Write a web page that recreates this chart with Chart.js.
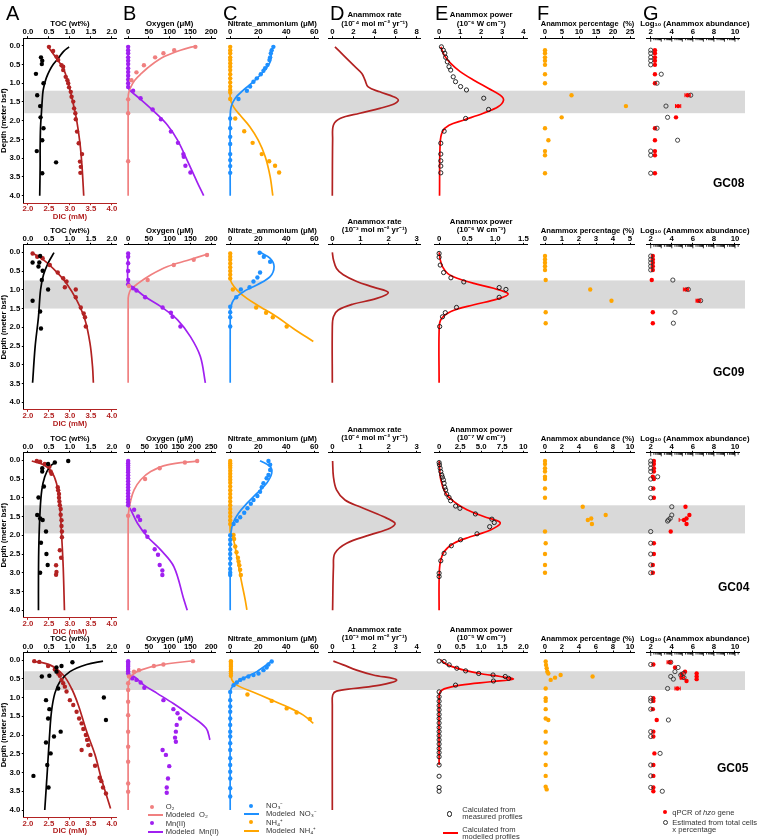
<!DOCTYPE html>
<html>
<head>
<meta charset="utf-8">
<script src="https://cdn.jsdelivr.net/npm/chart.js@4.4.1/dist/chart.umd.min.js"></script>
<style>
  body { margin: 0; background: #fff; width: 757px; height: 840px; overflow: hidden; position: relative;
         font-family: "Liberation Sans", Arial, sans-serif; }
  canvas { position: absolute; }
  .letter { position: absolute; font-size: 20px; line-height: 20px; color: #000; }
  .gc { position: absolute; font-size: 12px; line-height: 12px; font-weight: bold; color: #000; }
  .leg { position: absolute; font-size: 7.6px; line-height: 7px; color: #333; white-space: nowrap; }
  .mk { position: absolute; }
</style>
</head>
<body>
<script>
// ---- data: [value, depth (m)] ----
const zone08 = [1.2, 1.8];
const zone09 = [0.75, 1.5];
const zone04 = [1.2, 1.95];
const zone05 = [0.3, 0.8];

// tick labels
const depthTicks = [0, 0.5, 1, 1.5, 2, 2.5, 3, 3.5, 4];
const tocTicks = [0, 0.5, 1, 1.5, 2];
const dicTicks = [2, 2.5, 3, 3.5, 4];
const oxyTicks = [0, 50, 100, 150, 200];
const oxyTicks04 = [0, 50, 100, 150, 200, 250];
const nitTicks = [0, 20, 40, 60];
const rateTicks08 = [0, 2, 4, 6, 8];
const rateTicks3 = [0, 1, 2, 3];
const rateTicks4 = [0, 1, 2, 3, 4];
const powTicks08 = [0, 1, 2, 3, 4];
const powTicks09 = [0, 0.5, 1, 1.5];
const powTicks04 = [0, 2.5, 5, 7.5, 10];
const powTicks05 = [0, 0.5, 1, 1.5, 2];
const pctTicks08 = [0, 5, 10, 15, 20, 25];
const pctTicks09 = [0, 1, 2, 3, 4, 5];
const pctTicks10 = [0, 2, 4, 6, 8, 10];
const logTicks = [2, 4, 6, 8, 10];

// GC08
const gc08_toc = [[0.31,0.31],[0.34,0.40],[0.33,0.49],[0.19,0.75],[0.37,1.0],[0.22,1.32],[0.29,1.61],[0.30,1.91],[0.37,2.2],[0.34,2.52],[0.21,2.81],[0.67,3.11],[0.34,3.4]];
const gc08_tocModel = [[0.98,0.03],[0.85,0.15],[0.72,0.34],[0.6,0.5],[0.52,0.65],[0.44,0.85],[0.40,1.0],[0.36,1.2],[0.34,1.45],[0.32,1.8],[0.30,2.16],[0.29,2.7],[0.29,3.2],[0.28,4.0]];
const gc08_dic = [[2.50,0.03],[2.60,0.14],[2.68,0.29],[2.72,0.38],[2.80,0.52],[2.84,0.56],[2.84,0.65],[2.90,0.83],[2.94,0.92],[2.96,1.0],[2.98,1.11],[3.02,1.23],[3.04,1.36],[3.08,1.49],[3.10,1.67],[3.13,1.80],[3.14,1.96],[3.17,2.29],[3.21,2.6],[3.29,2.89],[3.24,3.09],[3.26,3.23],[3.25,3.39]];
const gc08_dicModel = [[2.48,0.03],[2.68,0.34],[2.84,0.6],[2.96,1.0],[3.06,1.45],[3.16,1.98],[3.24,2.6],[3.29,3.23],[3.33,4.0]];
const gc08_o2 = [[162,0.03],[111,0.12],[85,0.2],[65,0.31],[38,0.52],[20,0.71],[8,0.92],[0,1.43],[0,1.8],[0,3.08]];
const gc08_o2Model = [[165,0.0],[126,0.12],[87,0.29],[55,0.52],[32,0.74],[16,0.92],[6,1.11],[1,1.27],[0,1.4],[0,4.0]];
const gc08_mn = [[0,0.03],[0,0.12],[0,0.2],[0,0.31],[0,0.4],[0,0.49],[0,0.6],[0,0.7],[0,0.8],[0,0.9],[0,1.0],[0,1.1],[12,1.2],[30,1.4],[59,1.7],[79,1.96],[103,2.29],[120,2.59],[133,2.89],[134,2.96],[138,3.2],[150,3.38]];
const gc08_mnModel = [[0,0],[0,1.1],[3,1.18],[8,1.23],[32,1.45],[63,1.76],[95,2.12],[119,2.52],[142,3.05],[166,3.63],[182,4.0]];
const gc08_no3 = [[30.8,0.03],[29.6,0.12],[29,0.2],[28.5,0.31],[28,0.38],[26.6,0.51],[24.9,0.6],[23.7,0.67],[21.8,0.76],[19,0.87],[16.6,0.96],[14.2,1.09],[11.9,1.2],[5.9,1.42],[0,1.94],[0,2.2],[0,2.43],[0,2.62],[0,2.89],[0,3.05],[0,3.21],[0,3.39]];
const gc08_no3Model = [[31,0.03],[29.6,0.12],[28.5,0.43],[23.7,0.69],[16.6,0.96],[9.5,1.18],[3.6,1.4],[0.7,1.63],[0,1.9],[0,4.0]];
const gc08_nh4 = [[0,0.03],[0,0.12],[0,0.2],[0,0.31],[0,0.38],[0,0.47],[0,0.56],[0,0.65],[0,0.76],[0,0.87],[0,0.98],[0,1.09],[0,1.18],[0,1.25],[0,1.42],[3.6,1.94],[10,2.28],[16,2.59],[22.5,2.89],[27.8,3.08],[32,3.2],[34.9,3.38]];
const gc08_nh4Model = [[0,0],[0,1.4],[2.4,1.63],[7,1.85],[14,2.16],[20,2.52],[25,2.96],[28.5,3.49],[30.4,4.0]];
const gc08_rate = [[0.25,0.03],[1.04,0.25],[2.0,0.52],[2.8,0.74],[3.1,0.92],[3.4,1.1],[4.5,1.23],[5.8,1.36],[6.26,1.45],[5.8,1.56],[4.5,1.67],[2.6,1.8],[0.73,1.94],[0.1,2.12],[0.03,2.5],[0,4.0]];
const gc08_power = [[0.11,0.03],[0.2,0.12],[0.27,0.2],[0.31,0.31],[0.39,0.43],[0.47,0.56],[0.55,0.65],[0.67,0.83],[0.78,0.96],[1.02,1.09],[1.3,1.18],[2.12,1.4],[2.35,1.7],[1.26,1.94],[0.24,2.28],[0.08,2.6],[0.08,2.89],[0.08,3.07],[0.08,3.21],[0.08,3.39]];
const gc08_powerModel = [[0.08,0.03],[0.24,0.25],[0.55,0.47],[1.0,0.69],[1.65,0.92],[2.35,1.14],[2.9,1.32],[3.06,1.45],[2.8,1.63],[2.1,1.8],[1.18,1.98],[0.47,2.12],[0.16,2.29],[0.05,2.6],[0.02,4.0]];
const gc08_pct = [[0,0.12],[0,0.2],[0,0.31],[0,0.4],[0,0.51],[0,0.76],[0,1.0],[7.8,1.32],[23.8,1.61],[4.9,1.91],[0,2.2],[1.0,2.52],[0,2.81],[0,2.92],[0,3.4]];
const gc08_qpcr = [[2.4,0.12],[2.4,0.2],[2.4,0.31],[2.4,0.4],[2.4,0.51],[2.4,0.76],[2.4,1.0],[5.5,1.32],[4.6,1.61],[4.4,1.91],[2.4,2.2],[2.4,2.52],[2.4,2.81],[2.4,2.92],[2.4,3.4]];
const gc08_est = [[2.0,0.12],[2.0,0.2],[2.0,0.31],[2.0,0.4],[2.0,0.51],[3.0,0.76],[2.6,1.0],[5.8,1.32],[3.45,1.61],[3.6,1.91],[2.6,2.2],[4.55,2.52],[2.0,2.81],[2.0,2.92],[2.0,3.4]];
const gc08_err = [[5.25,5.75,1.32],[4.35,4.85,1.61]];

// GC09
const gc09_toc = [[0.29,0.1],[0.11,0.27],[0.27,0.27],[0.25,0.38],[0.35,0.49],[0.33,0.74],[0.48,0.99],[0.11,1.29],[0.29,1.58],[0.31,2.03]];
const gc09_tocModel = [[0.62,0.01],[0.48,0.29],[0.37,0.6],[0.30,1.0],[0.25,1.72],[0.17,2.52],[0.11,3.48]];
const gc09_dic = [[2.11,0.03],[2.22,0.12],[2.35,0.16],[2.52,0.34],[2.71,0.54],[2.84,0.69],[2.92,0.78],[2.88,0.93],[3.14,0.99],[3.14,1.2],[3.26,1.47],[3.33,1.63],[3.36,1.73],[3.38,1.98]];
const gc09_dicModel = [[2.09,0.01],[2.37,0.2],[2.68,0.52],[2.92,0.83],[3.16,1.27],[3.36,1.8],[3.48,2.43],[3.54,3.05],[3.56,3.48]];
const gc09_o2 = [[190,0.07],[158,0.2],[110,0.34],[47,0.74],[2,0.9]];
const gc09_o2Model = [[194,0.04],[142,0.22],[95,0.38],[55,0.6],[24,0.83],[6,1.0],[1,1.15],[0,1.3],[0,3.48]];
const gc09_mn = [[0,0.03],[0,0.12],[0,0.29],[0,0.5],[0,0.74],[0,0.85],[12,0.96],[20,1.02],[41,1.2],[83,1.47],[103,1.61],[107,1.72],[126,1.98]];
const gc09_mnModel = [[0,0],[0,0.85],[12,0.93],[40,1.18],[79,1.45],[119,1.8],[150,2.25],[174,2.78],[186,3.48]];
const gc09_no3 = [[21,0.01],[24,0.12],[28.5,0.25],[21.3,0.54],[19.4,0.67],[16.6,0.78],[13.8,0.93],[7.6,0.99],[4.3,1.2],[0,1.45],[0,1.6],[0,1.73],[0,1.98]];
const gc09_no3Model = [[21.3,0],[28.5,0.16],[31.3,0.38],[28.5,0.65],[19,0.87],[9.5,1.05],[2.4,1.27],[0.2,1.5],[0,1.7],[0,3.48]];
const gc09_nh4 = [[0,0.03],[0,0.12],[0,0.2],[0,0.3],[0,0.4],[0,0.5],[0,0.6],[0,0.7],[1.9,0.99],[18.5,1.47],[25.6,1.61],[30.4,1.73],[40.3,1.98]];
const gc09_nh4Model = [[0,0],[0,0.7],[1.2,0.83],[4.7,1.0],[11.9,1.23],[21.3,1.45],[33.2,1.72],[45,2.03],[59.3,2.38]];
const gc09_rate = [[0,0],[0.04,0.2],[0.15,0.43],[0.39,0.6],[0.87,0.78],[1.46,0.93],[1.99,1.07],[1.58,1.23],[0.75,1.38],[0.21,1.54],[0.04,1.72],[0,2.0],[0,3.48]];
const gc09_power = [[0,0.03],[0,0.13],[0.02,0.34],[0.08,0.54],[0.21,0.68],[0.44,0.79],[1.07,0.94],[1.19,0.99],[1.07,1.2],[0.31,1.47],[0.11,1.61],[0.06,1.72],[0.01,1.98]];
const gc09_powerModel = [[0,0],[0.02,0.2],[0.06,0.38],[0.15,0.56],[0.32,0.69],[0.62,0.83],[0.97,0.96],[1.23,1.11],[1.03,1.25],[0.62,1.4],[0.21,1.58],[0.03,1.8],[0,2.1],[0,3.48]];
const gc09_pct = [[0,0.1],[0,0.19],[0,0.28],[0,0.37],[0,0.47],[0.04,0.74],[2.66,0.99],[3.91,1.29],[0.04,1.6],[0.04,1.89]];
const gc09_qpcr = [[2.2,0.1],[2.2,0.19],[2.2,0.28],[2.2,0.37],[2.2,0.47],[2.1,0.74],[5.35,0.99],[6.5,1.29],[2.2,1.6],[2.2,1.89]];
const gc09_est = [[2.0,0.1],[2.0,0.19],[2.0,0.28],[2.0,0.37],[2.0,0.47],[4.1,0.74],[5.57,0.99],[6.74,1.29],[4.3,1.6],[4.15,1.89]];
const gc09_err = [[5.1,5.6,0.99],[6.3,6.75,1.29]];

// GC04
const gc04_toc = [[0.96,0.02],[0.64,0.06],[0.48,0.1],[0.34,0.21],[0.34,0.3],[0.38,0.7],[0.25,0.99],[0.22,1.46],[0.29,1.55],[0.35,1.59],[0.43,1.9],[0.31,2.2],[0.44,2.5],[0.47,2.79],[0.29,3.0]];
const gc04_tocModel = [[0.67,0.04],[0.52,0.17],[0.40,0.44],[0.33,0.79],[0.29,1.32],[0.26,2.21],[0.25,3.1],[0.25,4.0]];
const gc04_dic = [[2.21,0.02],[2.29,0.04],[2.4,0.1],[2.51,0.17],[2.54,0.3],[2.56,0.36],[2.71,0.72],[2.72,0.8],[2.74,0.9],[2.74,1.0],[2.75,1.1],[2.76,1.2],[2.78,1.3],[2.78,1.45],[2.8,1.6],[2.8,1.75],[2.81,1.9],[2.81,2.05],[2.76,2.4],[2.79,2.6],[2.67,2.8],[2.68,2.98],[2.67,3.05]];
const gc04_dicModel = [[2.09,0.02],[2.37,0.12],[2.56,0.3],[2.68,0.61],[2.75,1.06],[2.8,1.95],[2.84,2.84],[2.87,4.0]];
const gc04_o2 = [[208,0.02],[171,0.06],[95,0.21],[51,0.5],[0,1.48]];
const gc04_o2Model = [[208,0.02],[118,0.12],[68,0.3],[38,0.52],[18,0.79],[8,1.06],[1,1.41],[0,1.6],[0,4.0]];
const gc04_mn = [[0,0.02],[0,0.08],[0,0.14],[0,0.2],[0,0.26],[0,0.32],[0,0.4],[0,0.48],[0,0.56],[0,0.64],[0,0.72],[0,0.8],[0,0.88],[0,0.96],[0,1.04],[0,1.12],[0,1.2],[18,1.32],[30,1.5],[36,1.59],[50,1.9],[58,2.04],[80,2.37],[90,2.52],[95,2.79],[103,2.94],[103,3.06]];
const gc04_mnModel = [[0,0],[0,1.2],[8,1.32],[28,1.68],[58,2.04],[98,2.39],[138,2.84],[168,3.72],[178,4.0]];
const gc04_no3 = [[27.3,0.02],[28.5,0.12],[28.5,0.26],[27.3,0.39],[26,0.48],[23.7,0.61],[22.5,0.72],[21.3,0.84],[19.4,0.95],[16.6,1.06],[14.7,1.16],[12.3,1.28],[10,1.4],[7.1,1.52],[4.7,1.61],[2.4,1.7],[0,2.0],[0,2.12],[0,2.24],[0,2.38],[0,2.5],[0,2.62],[0,2.76],[0,2.9],[0,3.0],[0,3.06]];
const gc04_no3Model = [[21.3,0.01],[28.5,0.17],[29.6,0.35],[26,0.61],[19,0.88],[11.9,1.15],[5.9,1.41],[1.9,1.68],[0.5,1.95],[0,2.3],[0,4.0]];
const gc04_nh4 = [[0,0.02],[0,0.08],[0,0.14],[0,0.2],[0,0.28],[0,0.36],[0,0.44],[0,0.52],[0,0.6],[0,0.7],[0,0.8],[0,0.9],[0,1.0],[0,1.1],[0,1.2],[0,1.3],[0,1.4],[0,1.5],[0,1.6],[0,1.7],[2.4,1.99],[2.8,2.1],[3.6,2.3],[4.5,2.45],[5.5,2.6],[6,2.7],[6.5,2.8],[7.1,2.92],[7.6,3.06]];
const gc04_nh4Model = [[0,0],[0,1.9],[2.4,2.12],[5.2,2.66],[7.8,3.19],[10.7,3.72],[11.9,3.99]];
const gc04_rate = [[0.01,0.02],[0.04,0.44],[0.15,0.79],[0.45,1.06],[0.98,1.24],[1.81,1.5],[2.23,1.68],[2.05,1.81],[1.34,1.99],[0.51,2.21],[0.09,2.48],[0.04,2.84],[0.01,4.0]];
const gc04_power = [[0,0.06],[0.04,0.12],[0.12,0.21],[0.2,0.3],[0.31,0.39],[0.39,0.45],[0.51,0.52],[0.59,0.61],[0.67,0.72],[0.78,0.79],[0.9,0.9],[1.18,0.99],[1.37,1.08],[1.96,1.22],[2.47,1.28],[4.31,1.43],[6.27,1.57],[6.55,1.66],[6.0,1.77],[4.5,1.96],[2.55,2.12],[1.45,2.28],[0.59,2.48],[0.2,2.68],[0,3.01],[0,3.1]];
const gc04_powerModel = [[0,0.02],[0.2,0.52],[0.78,0.88],[1.76,1.1],[3.3,1.32],[5.3,1.5],[7.25,1.66],[6.1,1.86],[3.7,2.04],[1.76,2.21],[0.59,2.44],[0.12,2.75],[0,3.2],[0,4.0]];
const gc04_pct = [[0,0.02],[0,0.1],[0,0.21],[0,0.3],[0,0.44],[0,0.5],[0,0.75],[0,1.0],[4.44,1.24],[7.14,1.46],[5.44,1.55],[5.04,1.59],[5.52,1.7],[0,1.9],[0.08,2.21],[0,2.5],[0,2.79],[0,3.0]];
const gc04_qpcr = [[2.3,0.02],[2.3,0.1],[2.3,0.21],[2.3,0.3],[2.2,0.44],[2.3,0.5],[2.25,0.75],[2.3,1.0],[5.3,1.24],[5.67,1.46],[5.4,1.55],[5.16,1.59],[5.4,1.7],[3.9,1.9],[2.3,2.21],[2.3,2.5],[2.2,2.79],[2.2,3.0]];
const gc04_est = [[2.0,0.02],[2.0,0.1],[2.0,0.21],[2.0,0.3],[2.66,0.44],[2.0,0.5],[2.0,0.75],[2.0,1.0],[4.0,1.24],[4.0,1.46],[3.85,1.55],[3.7,1.59],[3.6,1.62],[2.0,1.9],[2.0,2.21],[2.0,2.5],[2.0,2.79],[2.0,3.0]];
const gc04_err = [[4.7,5.3,1.59]];

// GC05
const gc05_toc = [[1.06,0.06],[0.8,0.16],[0.68,0.2],[0.68,0.31],[0.33,0.44],[0.51,0.42],[0.72,0.76],[1.81,1.0],[0.43,1.07],[0.51,1.31],[0.48,1.56],[1.86,1.6],[0.78,1.91],[0.62,2.04],[0.43,2.2],[0.54,2.49],[0.46,2.8],[0.13,3.09],[0.49,3.4]];
const gc05_tocModel = [[1.79,0.03],[1.4,0.12],[1.0,0.31],[0.76,0.58],[0.64,0.89],[0.56,1.38],[0.51,2.09],[0.46,2.98],[0.4,4.0]];
const gc05_dic = [[2.15,0.03],[2.27,0.05],[2.48,0.16],[2.64,0.25],[2.72,0.36],[2.76,0.42],[2.8,0.53],[2.84,0.62],[2.88,0.71],[2.92,0.84],[3.0,1.07],[3.08,1.2],[3.16,1.38],[3.22,1.56],[3.28,1.69],[3.32,1.84],[3.38,2.0],[3.41,2.13],[3.44,2.27],[3.28,2.4],[3.49,2.53],[3.6,2.82],[3.71,3.14],[3.75,3.23],[3.79,3.4],[3.86,3.56]];
const gc05_dicModel = [[2.11,0.03],[2.52,0.13],[2.84,0.4],[3.04,0.76],[3.2,1.2],[3.4,1.91],[3.6,2.53],[3.75,3.16],[3.97,3.96]];
const gc05_o2 = [[156,0.03],[85,0.12],[62,0.16],[26,0.27],[14,0.31],[2,0.44],[0,0.62],[0,0.8],[0,1.11],[0,1.47],[0,1.91],[0,2.31],[0,2.71],[0,3.29],[0,3.51]];
const gc05_o2Model = [[158,0.02],[77,0.13],[30,0.27],[10,0.4],[1.5,0.58],[0,0.8],[0,4.0]];
const gc05_mn = [[0,0.03],[0,0.08],[0,0.13],[0,0.18],[0,0.24],[0,0.3],[0,0.36],[10,0.49],[20,0.53],[30,0.6],[39,0.74],[85,1.07],[109,1.31],[119,1.42],[125,1.56],[117,1.73],[115,1.91],[113,2.07],[115,2.18],[83,2.4],[91,2.53],[99,2.83],[96,3.16],[93,3.4],[93,3.54]];
const gc05_mnModel = [[0,0],[0,0.38],[14,0.44],[38,0.67],[70,0.89],[109,1.16],[149,1.47],[188,1.82],[197,2.13]];
const gc05_no3 = [[29.6,0.04],[27.3,0.12],[26,0.2],[23.7,0.27],[20.2,0.36],[16.6,0.4],[13,0.44],[9.5,0.49],[7.1,0.53],[4.7,0.6],[2.4,0.67],[0,0.85],[0,1.07],[0,1.24],[0,1.38],[0,1.56],[0,1.73],[0,1.91],[0,2.04],[0,2.22],[0,2.4],[0,2.62],[0,2.8],[0,2.98],[0,3.16],[0,3.42],[0,3.64]];
const gc05_no3Model = [[29.6,0.03],[19,0.31],[9.5,0.49],[3.6,0.62],[0.7,0.76],[0,0.9],[0,4.0]];
const gc05_nh4 = [[0.5,0.03],[0.5,0.08],[0.5,0.13],[0.5,0.18],[0.5,0.24],[0.5,0.3],[0.5,0.36],[0.5,0.42],[12.3,0.92],[29.6,1.09],[40.3,1.29],[47.4,1.4],[56.9,1.57]];
const gc05_nh4Model = [[1.5,0.0],[0.6,0.1],[0.7,0.3],[1.2,0.53],[4.7,0.67],[16.6,0.86],[28.5,1.05],[40.3,1.24],[52.2,1.47],[59.3,1.69]];
const gc05_rate = [[0.05,0.03],[0.52,0.13],[1.15,0.27],[1.94,0.4],[3.05,0.53],[2.26,0.67],[1.0,0.76],[0.2,0.83],[0.02,0.93],[0,1.2],[0,4.0]];
const gc05_power = [[0,0.03],[0.12,0.04],[0.24,0.13],[0.42,0.22],[0.63,0.29],[0.94,0.36],[1.28,0.4],[1.57,0.44],[1.65,0.49],[1.29,0.56],[0.39,0.67],[0,0.85],[0,0.98],[0,1.1],[0,1.22],[0,1.33],[0,1.45],[0,1.56],[0,1.68],[0,1.8],[0,1.91],[0,2.02],[0,2.13],[0,2.24],[0,2.36],[0,2.47],[0,2.58],[0,2.8],[0,3.1],[0,3.4],[0,3.5]];
const gc05_powerModel = [[0.04,0.0],[0.2,0.13],[0.59,0.27],[1.06,0.38],[1.45,0.44],[1.76,0.51],[1.22,0.58],[0.51,0.67],[0.12,0.77],[0.02,0.86],[0,1.0],[0,2.8]];
const gc05_pct = [[0.08,0.04],[0.12,0.13],[0.2,0.22],[0.27,0.31],[0.39,0.36],[1.84,0.4],[5.6,0.44],[1.18,0.47],[0.67,0.53],[0.08,0.76],[0.08,1.02],[0.08,1.09],[0.08,1.31],[0.08,1.56],[0.39,1.6],[0.08,1.91],[0.08,2.2],[0.08,2.49],[0.08,2.8],[0.08,3.09],[0.08,3.38],[0.2,3.45]];
const gc05_qpcr = [[2.25,0.12],[3.77,0.06],[4.31,0.2],[5.26,0.31],[4.94,0.38],[4.94,0.47],[6.36,0.36],[6.36,0.44],[6.36,0.51],[5.4,0.56],[4.53,0.76],[2.25,1.02],[2.25,1.09],[2.2,1.31],[2.57,1.6],[2.25,1.91],[2.25,2.04],[2.35,2.49],[2.25,2.8],[2.25,3.09],[2.25,3.4],[2.25,3.5]];
const gc05_est = [[2.0,0.12],[3.9,0.06],[4.6,0.2],[4.3,0.31],[5.1,0.36],[4.85,0.4],[5.16,0.47],[3.9,0.44],[4.15,0.51],[3.6,0.76],[2.0,1.02],[2.0,1.09],[2.0,1.31],[3.68,1.6],[2.0,1.91],[2.0,2.04],[2.89,2.49],[2.0,2.8],[2.0,3.09],[2.0,3.4],[3.1,3.5]];
const gc05_err = [[3.55,4.0,0.06],[4.3,4.8,0.76],[4.8,5.2,0.47]];

// ---- styling / layout ----
const BLACK = '#000', RED_DIC = '#b22222', PINK = '#f08080', PURPLE = '#a020f0',
      BLUE = '#1e90ff', ORANGE = '#ffa500', RED = '#ff0000', BAND = '#d9d9d9';
const ROW_TOPS = [38.2, 244.8, 452.8, 652.5];   // pixel of depth -0.2
const AREA_H = 165;                            // 4.4 m at 37.5 px/m
const ZONES = [zone08, zone09, zone04, zone05];
const COLS = {
  A: {cl: 0,   cr: 120, padL: 0,    padR: 3.8},
  B: {cl: 120, cr: 222, padL: 2.5,  padR: 6.7},
  C: {cl: 222, cr: 325, padL: 3.8,  padR: 6.5},
  D: {cl: 325, cr: 430, padL: 3.1,  padR: 9.1},
  E: {cl: 430, cr: 535, padL: 4.05, padR: 7.45},
  F: {cl: 535, cr: 640, padL: 5.75, padR: 5.75},
  G: {cl: 640, cr: 757, padL: 6.5,  padR: 17.8}
};

const FAMILY = '"Liberation Sans", Arial, sans-serif';
Chart.defaults.font.family = FAMILY;
const TICK_FONT = {size: 7.8, weight: 'bold', lineHeight: 1};
const TITLE_FONT = {size: 7.8, weight: 'bold', lineHeight: 1.05};

const f1 = v => v.toFixed(1);
const fInt = v => String(v);
const fMix = v => (v === 0 || v >= 10) ? String(v) : v.toFixed(1);

const pts = a => a.map(([x, y]) => ({x, y}));
function dots(a, color, axis) {
  return {data: pts(a), showLine: false, pointRadius: 2.2, pointBorderWidth: 0,
          pointBackgroundColor: color, pointBorderColor: color, xAxisID: axis || 'x', clip: false};
}
function rings(a, color) {
  return {data: pts(a), showLine: false, pointRadius: 2.1, pointBorderWidth: 0.9,
          pointBackgroundColor: 'rgba(0,0,0,0)', pointBorderColor: color, clip: false};
}
function curve(a, color, axis) {
  return {data: pts(a), showLine: true, pointRadius: 0, borderColor: color, borderWidth: 1.7,
          tension: 0.35, xAxisID: axis || 'x', clip: false};
}

function xAxis(pos, ticks, fmt, title, h, color, hideTitle) {
  const span = ticks[ticks.length - 1] - ticks[0];
  const pad = pos === 'top'
    ? {top: Array.isArray(title) ? h - 27.1 : h - 18.1, bottom: 0}
    : {top: 0, bottom: h - 17.9};
  return {
    type: 'linear', position: pos,
    min: ticks[0] - 0.05 * span, max: ticks[ticks.length - 1] + 0.05 * span,
    afterBuildTicks: s => { s.ticks = ticks.map(v => ({value: v})); },
    afterFit: s => { s.height = h; s.paddingLeft = 0; s.paddingRight = 0; },
    ticks: {autoSkip: false, maxRotation: 0, padding: 0, color, font: TICK_FONT, callback: v => fmt(v)},
    grid: {drawOnChartArea: false, tickLength: 2, color},
    border: {color, width: 1},
    title: {display: !hideTitle, text: title, color, font: TITLE_FONT, padding: pad}
  };
}
function yAxis(show) {
  return {
    type: 'linear', position: 'left', reverse: true, min: -0.2, max: 4.2, display: show,
    afterBuildTicks: s => { s.ticks = depthTicks.map(v => ({value: v})); },
    afterFit: s => { s.width = show ? 23.8 : 0; s.paddingTop = 0; s.paddingBottom = 0; },
    ticks: {autoSkip: false, padding: 1.5, color: BLACK, font: TICK_FONT, callback: v => v.toFixed(1)},
    grid: {drawOnChartArea: false, tickLength: 2, color: BLACK},
    border: {color: BLACK, width: 1},
    title: {display: true, text: 'Depth (meter bsf)', color: BLACK, font: TITLE_FONT, padding: 0}
  };
}

function bandPlugin(zone, fromArea, extendRight) {
  return {id: 'band', beforeDraw(chart) {
    const {ctx, chartArea, scales: {y}} = chart;
    const y0 = y.getPixelForValue(zone[0]), y1 = y.getPixelForValue(zone[1]);
    const x0 = fromArea ? chartArea.left + 0.5 : 0;
    const x1 = extendRight != null ? chartArea.right + extendRight : chart.width;
    ctx.save(); ctx.fillStyle = BAND; ctx.fillRect(x0, y0, x1 - x0, y1 - y0); ctx.restore();
  }};
}
function errPlugin(bars) {
  return {id: 'errbars', afterDatasetsDraw(chart) {
    const {ctx, scales: {x, y}} = chart;
    ctx.save(); ctx.strokeStyle = RED; ctx.lineWidth = 1; ctx.beginPath();
    bars.forEach(([lo, hi, d]) => {
      const py = y.getPixelForValue(d), a = x.getPixelForValue(lo), b = x.getPixelForValue(hi);
      ctx.moveTo(a, py); ctx.lineTo(b, py);
      ctx.moveTo(a, py - 2); ctx.lineTo(a, py + 2);
      ctx.moveTo(b, py - 2); ctx.lineTo(b, py + 2);
    });
    ctx.stroke(); ctx.restore();
  }};
}
const logTickPlugin = {id: 'logticks', afterDraw(chart) {
  const {ctx, chartArea, scales: {x}} = chart;
  ctx.save(); ctx.strokeStyle = BLACK; ctx.lineWidth = 0.8; ctx.beginPath();
  for (let k = 2; k <= 10; k++) {
    for (let m = 1; m <= 9; m++) {
      const v = k + Math.log10(m);
      if (v > x.max) continue;
      const px = x.getPixelForValue(v);
      ctx.moveTo(px, chartArea.top); ctx.lineTo(px, chartArea.top + (m === 1 ? 3.5 : 2));
    }
  }
  ctx.stroke(); ctx.restore();
}};
// axis title wider than its panel: drawn without Chart.js' maxWidth squeeze
function wideTitlePlugin(text) {
  return {id: 'wideTitle', afterDraw(chart) {
    const {ctx, chartArea} = chart;
    ctx.save();
    ctx.font = 'bold 7.8px ' + FAMILY; ctx.fillStyle = BLACK;
    ctx.textAlign = 'center'; ctx.textBaseline = 'middle';
    ctx.fillText(text, (chartArea.left + chartArea.right) / 2 + 2, chartArea.top - 14);
    ctx.restore();
  }};
}

function addPanel(r, col, p) {
  const c = COLS[col];
  const chartTop = ROW_TOPS[r];
  const cTop = Math.floor(chartTop - 36);
  const topH = chartTop - cTop;
  const H = Math.ceil(topH + AREA_H + 24);
  const botH = H - topH - AREA_H;
  const cv = document.createElement('canvas');
  cv.width = c.cr - c.cl; cv.height = H;
  cv.style.left = c.cl + 'px'; cv.style.top = cTop + 'px';
  document.body.appendChild(cv);

  const scales = {x: xAxis('top', p.ticks, p.fmt, p.title, topH, BLACK, p.wide), y: yAxis(col === 'A')};
  if (p.x2) scales.x2 = xAxis('bottom', p.x2.ticks, p.x2.fmt, p.x2.title, botH, RED_DIC);
  const plugins = [bandPlugin(ZONES[r], col === 'A', col === 'G' ? 5.8 : null)];
  if (p.err) plugins.push(errPlugin(p.err));
  if (p.logTicks) plugins.push(logTickPlugin);
  if (p.wide) plugins.push(wideTitlePlugin(p.title));

  new Chart(cv, {
    type: 'scatter',
    data: {datasets: p.datasets},
    options: {
      responsive: false, animation: false, events: [],
      layout: {padding: {left: c.padL, right: c.padR, top: 0, bottom: p.x2 ? 0 : botH}},
      plugins: {legend: {display: false}, tooltip: {enabled: false}},
      scales
    },
    plugins
  });
}

function buildRow(r, d) {
  addPanel(r, 'A', {ticks: tocTicks, fmt: f1, title: 'TOC (wt%)',
    x2: {ticks: dicTicks, fmt: f1, title: 'DIC (mM)'},
    datasets: [dots(d.toc, BLACK), dots(d.dic, RED_DIC, 'x2'), curve(d.tocM, BLACK), curve(d.dicM, RED_DIC, 'x2')]});
  addPanel(r, 'B', {ticks: d.oxyTicks, fmt: fInt, title: 'Oxygen (μM)',
    datasets: [dots(d.o2, PINK), dots(d.mn, PURPLE), curve(d.o2M, PINK), curve(d.mnM, PURPLE)]});
  addPanel(r, 'C', {ticks: nitTicks, fmt: fInt, title: 'Nitrate_ammonium (μM)',
    datasets: [dots(d.no3, BLUE), dots(d.nh4, ORANGE), curve(d.no3M, BLUE), curve(d.nh4M, ORANGE)]});
  addPanel(r, 'D', {ticks: d.rateTicks, fmt: fInt, title: ['Anammox rate', '(10' + d.rateExp + ' mol m⁻² yr⁻¹)'],
    datasets: [curve(d.rate, RED_DIC)]});
  addPanel(r, 'E', {ticks: d.powTicks, fmt: d.powFmt, title: ['Anammox power', '(10' + d.powExp + ' W cm⁻³)'],
    datasets: [rings(d.pow, '#111'), curve(d.powM, RED)]});
  addPanel(r, 'F', {ticks: d.pctTicks, fmt: fInt, title: d.pctTitle,
    datasets: [dots(d.pct, ORANGE)]});
  addPanel(r, 'G', {ticks: logTicks, fmt: fInt, title: 'Log₁₀ (Anammox abundance)', wide: true,
    err: d.err, logTicks: true,
    datasets: [rings(d.est, '#333'), dots(d.qpcr, RED)]});
}

buildRow(0, {toc: gc08_toc, tocM: gc08_tocModel, dic: gc08_dic, dicM: gc08_dicModel,
  oxyTicks: oxyTicks, o2: gc08_o2, o2M: gc08_o2Model, mn: gc08_mn, mnM: gc08_mnModel,
  no3: gc08_no3, no3M: gc08_no3Model, nh4: gc08_nh4, nh4M: gc08_nh4Model,
  rateTicks: rateTicks08, rateExp: '⁻⁴', rate: gc08_rate,
  powTicks: powTicks08, powFmt: fInt, powExp: '⁻⁶', pow: gc08_power, powM: gc08_powerModel,
  pctTicks: pctTicks08, pctTitle: 'Anammox percentage  (%)', pct: gc08_pct,
  qpcr: gc08_qpcr, est: gc08_est, err: gc08_err});
buildRow(1, {toc: gc09_toc, tocM: gc09_tocModel, dic: gc09_dic, dicM: gc09_dicModel,
  oxyTicks: oxyTicks, o2: gc09_o2, o2M: gc09_o2Model, mn: gc09_mn, mnM: gc09_mnModel,
  no3: gc09_no3, no3M: gc09_no3Model, nh4: gc09_nh4, nh4M: gc09_nh4Model,
  rateTicks: rateTicks3, rateExp: '⁻³', rate: gc09_rate,
  powTicks: powTicks09, powFmt: fMix, powExp: '⁻⁶', pow: gc09_power, powM: gc09_powerModel,
  pctTicks: pctTicks09, pctTitle: 'Anammox percentage (%)', pct: gc09_pct,
  qpcr: gc09_qpcr, est: gc09_est, err: gc09_err});
buildRow(2, {toc: gc04_toc, tocM: gc04_tocModel, dic: gc04_dic, dicM: gc04_dicModel,
  oxyTicks: oxyTicks04, o2: gc04_o2, o2M: gc04_o2Model, mn: gc04_mn, mnM: gc04_mnModel,
  no3: gc04_no3, no3M: gc04_no3Model, nh4: gc04_nh4, nh4M: gc04_nh4Model,
  rateTicks: rateTicks3, rateExp: '⁻⁴', rate: gc04_rate,
  powTicks: powTicks04, powFmt: fMix, powExp: '⁻⁷', pow: gc04_power, powM: gc04_powerModel,
  pctTicks: pctTicks10, pctTitle: 'Anammox abundance (%)', pct: gc04_pct,
  qpcr: gc04_qpcr, est: gc04_est, err: gc04_err});
buildRow(3, {toc: gc05_toc, tocM: gc05_tocModel, dic: gc05_dic, dicM: gc05_dicModel,
  oxyTicks: oxyTicks, o2: gc05_o2, o2M: gc05_o2Model, mn: gc05_mn, mnM: gc05_mnModel,
  no3: gc05_no3, no3M: gc05_no3Model, nh4: gc05_nh4, nh4M: gc05_nh4Model,
  rateTicks: rateTicks4, rateExp: '⁻³', rate: gc05_rate,
  powTicks: powTicks05, powFmt: fMix, powExp: '⁻⁵', pow: gc05_power, powM: gc05_powerModel,
  pctTicks: pctTicks10, pctTitle: 'Anammox percentage (%)', pct: gc05_pct,
  qpcr: gc05_qpcr, est: gc05_est, err: gc05_err});

// ---- panel letters, core names, legends ----
function addText(cls, x, y, html) {
  const el = document.createElement('div');
  el.className = cls; el.style.left = x + 'px'; el.style.top = y + 'px'; el.innerHTML = html;
  document.body.appendChild(el);
}
[['A', 6], ['B', 123], ['C', 223], ['D', 330], ['E', 435], ['F', 537], ['G', 643]]
  .forEach(([t, x]) => addText('letter', x, 3.4, t));
[['GC08', 713, 183], ['GC09', 713, 372], ['GC04', 718, 587], ['GC05', 717, 768]]
  .forEach(([t, x, y]) => addText('gc', x, y - 5.9, t));

function marker(kind, cx, cy, color) {
  const el = document.createElement('div');
  el.className = 'mk';
  if (kind === 'line') {
    Object.assign(el.style, {left: (cx - 7.5) + 'px', top: (cy - 0.85) + 'px', width: '15px', height: '1.7px', background: color});
  } else if (kind === 'dot') {
    Object.assign(el.style, {left: (cx - 2.2) + 'px', top: (cy - 2.2) + 'px', width: '4.4px', height: '4.4px', borderRadius: '50%', background: color});
  } else {
    Object.assign(el.style, {left: (cx - 2.1) + 'px', top: (cy - 2.1) + 'px', width: '3.2px', height: '3.2px', borderRadius: '50%', border: '0.9px solid ' + color});
  }
  document.body.appendChild(el);
}
function legendItem(kind, cx, cy, color, tx, html, lines) {
  marker(kind, cx, cy, color);
  addText('leg', tx, cy - 3.6 * (lines || 1), html);
}
legendItem('dot', 152.3, 806.7, PINK, 165.7, 'O₂');
legendItem('line', 155.5, 815, PINK, 165.7, 'Modeled&nbsp; O₂');
legendItem('dot', 152.3, 823.3, PURPLE, 165.7, 'Mn(II)');
legendItem('line', 155.5, 831.7, PURPLE, 165.7, 'Modeled&nbsp; Mn(II)');
legendItem('dot', 250.7, 805.7, BLUE, 266, 'NO₃⁻');
legendItem('line', 251.6, 814, BLUE, 266, 'Modeled&nbsp; NO₃⁻');
legendItem('dot', 250.7, 822.3, ORANGE, 266, 'NH₄⁺');
legendItem('line', 251.6, 831, ORANGE, 266, 'Modeled&nbsp; NH₄⁺');
legendItem('ring', 449.3, 813.5, '#111', 462.3, 'Calculated from<br>measured profiles', 2);
legendItem('line', 450.5, 833, RED, 462.3, 'Calculated from<br>modelled profiles', 2);
legendItem('dot', 665, 812.3, RED, 672.3, 'qPCR of <i>hzo</i> gene');
legendItem('ring', 665, 822.3, '#333', 672.3, 'Estimated from total cells<br>x percentage', 1);
</script>
</body>
</html>
